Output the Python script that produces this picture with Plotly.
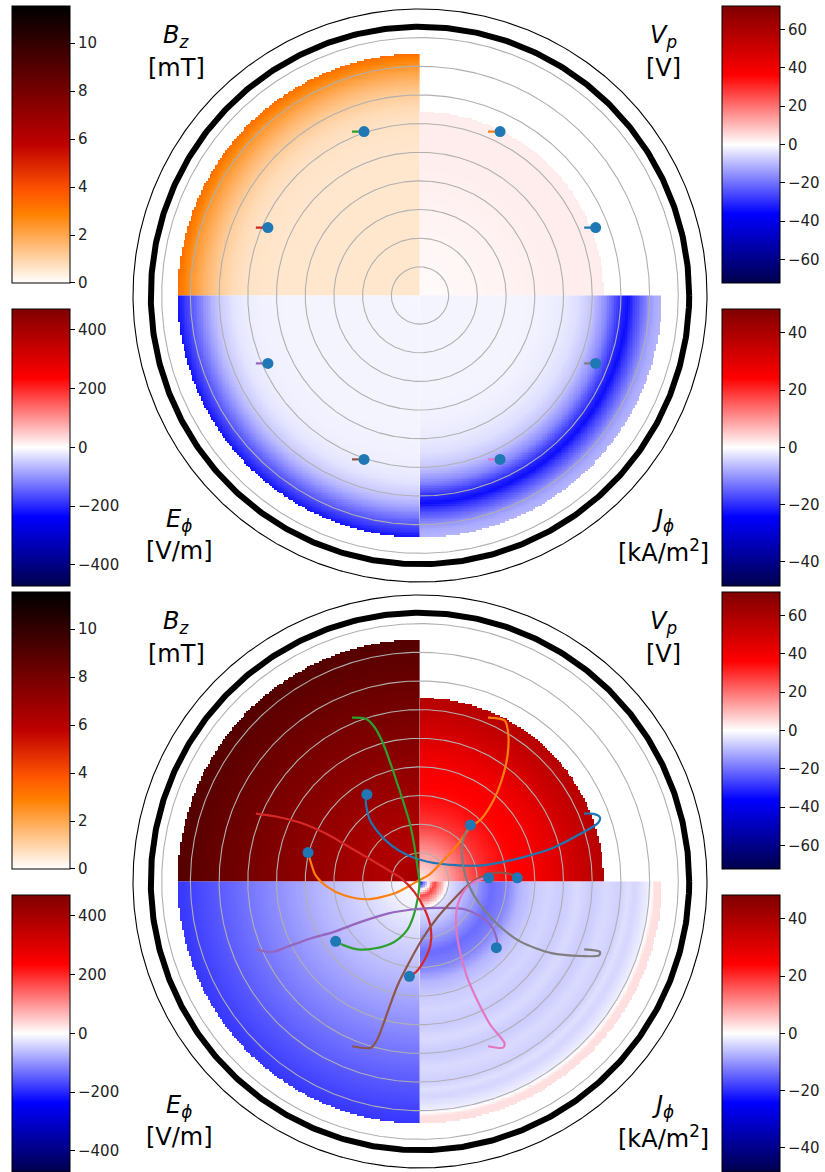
import numpy as np
import plotly.graph_objects as go

# ---------------- data ----------------
# radial nodes (cm) of the field profiles
r_nodes = [0.0, 0.25, 0.5, 1.0, 1.5, 2.0, 2.5, 3.0, 3.5, 4.0, 4.5,
           5.0, 5.5, 6.0, 6.5, 7.0, 7.25, 7.5, 8.0, 8.2, 8.45]

# early snapshot (top panel)
bz_early = [0.55, 0.55, 0.55, 0.55, 0.55, 0.55, 0.55, 0.55, 0.55, 0.55, 0.55,
            0.57, 0.60, 0.65, 0.80, 1.15, 1.40, 1.70, 2.40, 2.80, 3.30]
vp_early = [0.6, 0.7, 0.8, 1.0, 1.2, 1.4, 1.6, 1.8, 2.0, 2.2, 2.4,
            2.5, 2.6, 2.7, 2.8, 2.8, 2.8, 2.8, 2.8, 2.8, 2.8]
ephi_early = [-8, -8, -9, -10, -10, -10, -10, -10, -10, -10, -10,
              -11, -13, -16, -25, -50, -70, -97, -160, -185, -220]
jphi_early = [-1, -1, -1, -1, -1, -1, -1, -1, -1, -1.2, -1.5,
              -2, -3, -5.5, -11, -20, -23, -18, -10, -8, -7]

# late snapshot (bottom panel)
bz_late = [6.6, 6.5, 6.4, 6.3, 6.3, 6.4, 6.6, 6.8, 7.0, 7.2, 7.4,
           7.6, 7.8, 8.0, 8.2, 8.4, 8.5, 8.6, 8.8, 8.9, 9.0]
vp_late = [3, 5, 8, 14, 21, 28, 32, 35, 37, 39, 42,
           47, 51, 55, 57, 57, 57, 57, 57, 57, 57]
ephi_late = [-2, -3, -6, -15, -27, -38, -48, -58, -68, -80, -92,
             -104, -116, -128, -140, -152, -158, -164, -176, -180, -186]
jphi_late = [-25, -5, 18, -3, -6, -10, -14, -12, -7, -5, -4,
             -5, -3.5, -5, -3.5, -4.5, -3, -4, -1.5, 3, 3]

# colour ranges of the colour bars
bz_range = [0.0, 11.55]
vp_lim = 72.4
ephi_lim = 471.0
jphi_lim = 48.4
bz_dtick, vp_dtick, ephi_dtick, jphi_dtick = 2, 20, 200, 20

# grid rings, chamber wall, plot boundary (cm)
grid_radii = [1, 2, 3, 4, 5, 6, 7, 8, 9]
wall_radius = 9.38
edge_radius = 10.0
field_radius = 8.44
vp_radius = 6.41

# particle colours
colors = ["#1f77b4", "#ff7f0e", "#2ca02c", "#d62728",
          "#9467bd", "#8c564b", "#e377c2", "#7f7f7f"]

# early snapshot: start and current positions
early_start_x = [5.72, 2.37, -2.37, -5.72, -5.72, -2.37, 2.37, 5.72]
early_start_y = [2.37, 5.72, 5.72, 2.37, -2.37, -5.72, -5.72, -2.37]
early_end_x = [6.12, 2.79, -1.95, -5.30, -5.30, -1.95, 2.79, 6.12]
early_end_y = [2.37, 5.72, 5.72, 2.37, -2.37, -5.72, -5.72, -2.37]

# late snapshot trajectories
blue_x = [5.72, 6.05, 6.27, 6.21, 5.51, 4.58, 3.41, 2.25, 1.20, 0.27, -0.43, -1.01, -1.48, -1.77, -1.89, -1.85]
blue_y = [2.37, 2.36, 2.24, 2.05, 1.62, 1.15, 0.80, 0.57, 0.57, 0.69, 0.92, 1.27, 1.74, 2.20, 2.79, 3.04]
orange_x = [2.37, 2.95, 3.07, 3.05, 2.85, 2.57, 2.15, 1.72, 1.32, 0.75, 0.30, -0.02, -0.35, -0.90, -1.83, -2.65, -3.23, -3.64, -3.81, -3.90]
orange_y = [5.72, 5.62, 5.20, 4.40, 3.55, 2.85, 2.20, 1.85, 1.30, 0.66, 0.22, 0.05, -0.14, -0.42, -0.62, -0.48, -0.19, 0.22, 0.69, 1.01]
green_x = [-2.37, -1.89, -1.60, -1.31, -1.01, -0.66, -0.37, -0.20, -0.08, -0.02, -0.08, -0.22, -0.45, -0.90, -1.60, -2.18, -2.65, -2.94]
green_y = [5.72, 5.68, 5.41, 4.88, 4.07, 3.02, 2.09, 1.27, 0.45, -0.01, -0.59, -1.18, -1.70, -2.11, -2.34, -2.37, -2.23, -2.09]
red_x = [-5.72, -4.98, -4.16, -3.23, -2.41, -1.60, -1.01, -0.66, -0.20, 0.15, 0.38, 0.36, 0.15, -0.14, -0.37]
red_y = [2.37, 2.26, 2.05, 1.65, 1.17, 0.70, 0.34, 0.12, -0.36, -0.94, -1.64, -2.23, -2.75, -3.16, -3.31]
purple_x = [-5.72, -5.15, -4.63, -3.81, -3.00, -2.06, -1.13, -0.20, 0.73, 1.55, 2.13, 2.54, 2.69, 2.66]
purple_y = [-2.37, -2.46, -2.28, -1.99, -1.76, -1.41, -1.12, -0.97, -0.92, -0.97, -1.24, -1.64, -2.11, -2.31]
brown_x = [-2.37, -1.71, -1.48, -1.13, -0.78, -0.37, 0.09, 0.62, 1.20, 1.67, 2.13, 2.60, 3.07, 3.39]
brown_y = [-5.75, -5.80, -5.49, -4.56, -3.62, -2.81, -1.99, -1.24, -0.59, -0.13, 0.16, 0.30, 0.28, 0.13]
pink_x = [2.37, 2.89, 2.95, 2.45, 2.02, 1.63, 1.37, 1.25, 1.33, 1.60, 1.90, 2.19, 2.39]
pink_y = [-5.75, -5.80, -5.66, -5.00, -4.20, -3.30, -2.35, -1.45, -0.75, -0.24, -0.01, 0.10, 0.13]
gray_x = [5.72, 6.27, 6.24, 5.63, 4.58, 3.50, 2.65, 2.05, 1.70, 1.52, 1.46, 1.55, 1.76]
gray_y = [-2.37, -2.46, -2.58, -2.60, -2.50, -2.10, -1.45, -0.75, -0.13, 0.45, 1.15, 1.62, 1.97]

late_x = [blue_x, orange_x, green_x, red_x, purple_x, brown_x, pink_x, gray_x]
late_y = [blue_y, orange_y, green_y, red_y, purple_y, brown_y, pink_y, gray_y]

# ---------------- geometry / style ----------------
W, H = 825, 1172
PX = 28.7            # pixels per cm
CX = 420
CY_TOP, CY_BOT = 296, 883
RAX = 10.05
FONT = "DejaVu Sans"

gist_heat_r = [[0.0, "rgb(255,255,255)"], [0.25, "rgb(255,128,0)"],
               [1/3, "rgb(255,85,0)"], [0.5, "rgb(191,0,0)"], [1.0, "rgb(0,0,0)"]]
seismic = [[0.0, "rgb(0,0,77)"], [0.25, "rgb(0,0,255)"], [0.5, "rgb(255,255,255)"],
           [0.75, "rgb(255,0,0)"], [1.0, "rgb(128,0,0)"]]


def xdom():
    return [(CX - RAX * PX) / W, (CX + RAX * PX) / W]


def ydom(cy):
    return [max(0.0, (H - (cy + RAX * PX)) / H), min(1.0, (H - (cy - RAX * PX)) / H)]


NCELL = 140
STEP = 8.48 / NCELL


def quadrant(sx, sy, prof, rmax):
    c = (np.arange(NCELL) + 0.5) * STEP
    xs = np.sort(sx * c)
    ys = np.sort(sy * c)
    X, Y = np.meshgrid(xs, ys)
    R = np.hypot(X, Y)
    Z = np.interp(R, r_nodes, prof)
    zl = [[(round(float(v), 3) if rr <= rmax else None) for v, rr in zip(zrow, rrow)]
          for zrow, rrow in zip(Z, R)]
    return [round(v, 4) for v in xs.tolist()], [round(v, 4) for v in ys.tolist()], zl


def cbar(xpx, ytop_px, dtick):
    return dict(x=xpx / W, xanchor="left", y=(H - ytop_px) / H, yanchor="top",
                len=277, lenmode="pixels", thickness=58, thicknessmode="pixels",
                xpad=0, ypad=0, outlinewidth=1, outlinecolor="#000",
                tickmode="linear", tick0=0, dtick=dtick, ticks="outside",
                ticklen=5, tickwidth=1, tickcolor="#000",
                tickfont=dict(family=FONT, size=15, color="#222"))


fig = go.Figure()

panels = [
    ("x", "y", 0, bz_early, vp_early, ephi_early, jphi_early),
    ("x2", "y2", 587, bz_late, vp_late, ephi_late, jphi_late),
]

# heat maps
for xa, ya, off, bz, vp, eph, jph in panels:
    specs = [
        (-1, 1, bz, field_radius, gist_heat_r, bz_range[0], bz_range[1], cbar(11.7, 6 + off, bz_dtick)),
        (1, 1, vp, vp_radius, seismic, -vp_lim, vp_lim, cbar(721.7, 6 + off, vp_dtick)),
        (-1, -1, eph, field_radius, seismic, -ephi_lim, ephi_lim, cbar(11.7, 309.3 + off, ephi_dtick)),
        (1, -1, jph, field_radius, seismic, -jphi_lim, jphi_lim, cbar(721.7, 309.3 + off, jphi_dtick)),
    ]
    for sx, sy, prof, rmax, cs, zmin, zmax, cb in specs:
        xs, ys, z = quadrant(sx, sy, prof, rmax)
        fig.add_trace(go.Heatmap(x=xs, y=ys, z=z, colorscale=cs, zmin=zmin, zmax=zmax,
                                 colorbar=cb, showscale=True, hoverinfo="skip",
                                 xaxis=xa, yaxis=ya))

# rings
theta = np.linspace(0, 2 * np.pi, 721)
for xa, ya, *_ in panels:
    for rg in grid_radii:
        fig.add_trace(go.Scatter(x=rg * np.cos(theta), y=rg * np.sin(theta), mode="lines",
                                 line=dict(color="#b0b0b0", width=1.1), hoverinfo="skip",
                                 xaxis=xa, yaxis=ya))
    fig.add_trace(go.Scatter(x=wall_radius * np.cos(theta), y=wall_radius * np.sin(theta),
                             mode="lines", line=dict(color="#000", width=6), hoverinfo="skip",
                             xaxis=xa, yaxis=ya))
    fig.add_trace(go.Scatter(x=edge_radius * np.cos(theta), y=edge_radius * np.sin(theta),
                             mode="lines", line=dict(color="#000", width=1.1), hoverinfo="skip",
                             xaxis=xa, yaxis=ya))

# early trajectories
for i, col in enumerate(colors):
    fig.add_trace(go.Scatter(x=[early_start_x[i], early_end_x[i]], y=[early_start_y[i], early_end_y[i]],
                             mode="lines", line=dict(color=col, width=2.2), hoverinfo="skip",
                             xaxis="x", yaxis="y"))
fig.add_trace(go.Scatter(x=early_end_x, y=early_end_y, mode="markers",
                         marker=dict(color="#1f77b4", size=11), hoverinfo="skip",
                         xaxis="x", yaxis="y"))

# late trajectories
for i, col in enumerate(colors):
    fig.add_trace(go.Scatter(x=late_x[i], y=late_y[i], mode="lines",
                             line=dict(color=col, width=2.2, shape="spline", smoothing=0.8),
                             hoverinfo="skip", xaxis="x2", yaxis="y2"))
fig.add_trace(go.Scatter(x=[t[-1] for t in late_x], y=[t[-1] for t in late_y], mode="markers",
                         marker=dict(color="#1f77b4", size=11), hoverinfo="skip",
                         xaxis="x2", yaxis="y2"))

# labels
labels = [
    ("<i>B</i><sub><i>z</i></sub>", "[mT]", 176, 37),
    ("<i>V</i><sub><i>p</i></sub>", "[V]", 663, 37),
    ("<i>E</i><sub><i>ϕ</i></sub>", "[V/m]", 179, 521),
    ("<i>J</i><sub><i>ϕ</i></sub>", "[kA/m<sup>2</sup>]", 663, 521),
]
ann = []
for off in (0, 587):
    for l1, l2, xp, yp in labels:
        ann.append(dict(text=l1, x=xp / W, y=(H - (yp + off)) / H, xref="paper", yref="paper",
                        xanchor="center", yanchor="middle", showarrow=False,
                        font=dict(family=FONT, size=24, color="#000")))
        ann.append(dict(text=l2, x=xp / W, y=(H - (yp + 31 + off)) / H, xref="paper", yref="paper",
                        xanchor="center", yanchor="middle", showarrow=False,
                        font=dict(family=FONT, size=24, color="#000")))

ax = dict(range=[-RAX, RAX], visible=False, showgrid=False, zeroline=False, fixedrange=True)
fig.update_layout(
    width=W, height=H, margin=dict(l=0, r=0, t=0, b=0),
    paper_bgcolor="white", plot_bgcolor="white", showlegend=False,
    xaxis=dict(ax, domain=xdom(), anchor="y"),
    yaxis=dict(ax, domain=ydom(CY_TOP), anchor="x"),
    xaxis2=dict(ax, domain=xdom(), anchor="y2"),
    yaxis2=dict(ax, domain=ydom(CY_BOT), anchor="x2"),
    annotations=ann,
)

fig.write_html("out.html")
